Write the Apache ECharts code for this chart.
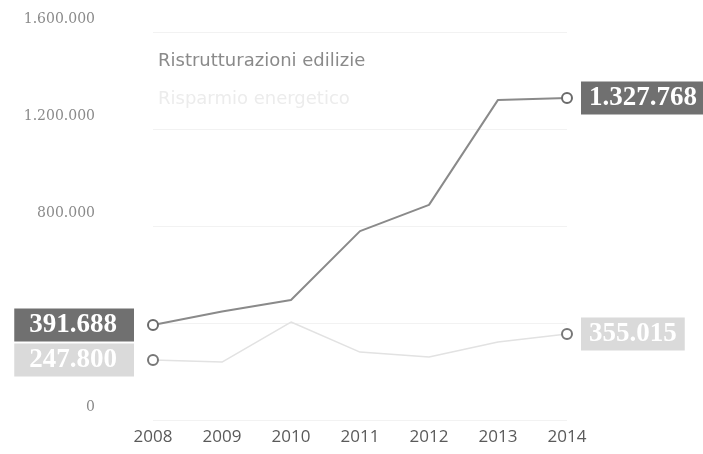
<!DOCTYPE html>
<html><head><meta charset="utf-8">
<script src="https://cdn.jsdelivr.net/npm/echarts@6/dist/echarts.min.js"></script>
<style>html,body{margin:0;padding:0;background:#fff}#c{width:703px;height:454px}</style>
</head><body><div id="c"></div>
<script>
var years = ['2008','2009','2010','2011','2012','2013','2014'];
var ristrutturazioni = [391688, 447000, 495000, 779000, 887000, 1320000, 1327768];
var risparmio = [247800, 239000, 404000, 280000, 260000, 322000, 355015];
var seriesNames = ['Ristrutturazioni edilizie', 'Risparmio energetico'];
var yTicks = [0, 400000, 800000, 1200000, 1600000];
var hiddenTicks = [400000];

function fmt(v){ return String(v).replace(/\B(?=(\d{3})+(?!\d))/g, '.'); }

function buildData(vals, boxColor, markerColor){
  return vals.map(function(v, i){
    var first = i === 0, last = i === vals.length - 1;
    if (!first && !last) return {value: v, symbol: 'none'};
    return {
      value: v,
      symbol: 'emptyCircle',
      symbolSize: 10,
      itemStyle: {color: markerColor, borderColor: markerColor, borderWidth: 2},
      label: {
        show: true,
        position: first ? 'left' : 'right',
        distance: first ? 13 : 8,
        formatter: function(p){ return fmt(p.value); },
        fontFamily: 'Liberation Serif',
        fontWeight: 'bold',
        fontSize: 27,
        color: '#fff',
        backgroundColor: boxColor,
        padding: first ? [2, 17, 1, 15] : [2, 8, 1, 8],
        lineHeight: 30
      }
    };
  });
}

var chart = echarts.init(document.getElementById('c'));
chart.setOption({
  animation: false,
  backgroundColor: '#fff',
  grid: {left: 153, right: 136, top: 32, bottom: 34},
  legend: {
    orient: 'vertical', left: 148, top: 47, itemGap: 20, icon: 'none',
    itemWidth: 0, itemHeight: 14,
    textStyle: {fontFamily: 'DejaVu Sans', fontSize: 18},
    data: [
      {name: seriesNames[0], textStyle: {color: '#8a8a8a'}},
      {name: seriesNames[1], textStyle: {color: '#ececec'}}
    ],
    selectedMode: false
  },
  xAxis: {
    type: 'category', data: years, boundaryGap: false,
    axisLine: {show: false}, axisTick: {show: false},
    axisLabel: {margin: 9, fontFamily: 'Open Sans', fontSize: 17, color: '#5a5a5a'}
  },
  yAxis: {
    type: 'value', min: yTicks[0], max: yTicks[yTicks.length-1], interval: yTicks[1]-yTicks[0],
    axisLine: {show: false}, axisTick: {show: false},
    splitLine: {lineStyle: {color: '#f2f2f2', width: 1}},
    axisLabel: {
      margin: 58, verticalAlign: 'bottom', padding: [0,0,6,0],
      fontFamily: 'DejaVu Serif', fontSize: 14, color: '#8a8a8a',
      formatter: function(v){ return hiddenTicks.indexOf(v) >= 0 ? '' : fmt(v); }
    }
  },
  series: [
    {
      name: seriesNames[0], type: 'line', z: 3,
      lineStyle: {color: '#8a8a8a', width: 2},
      itemStyle: {color: '#8a8a8a'},
      data: buildData(ristrutturazioni, '#707070', '#6a6a6a')
    },
    {
      name: seriesNames[1], type: 'line', z: 2,
      lineStyle: {color: '#e2e2e2', width: 1.5},
      itemStyle: {color: '#e2e2e2'},
      data: buildData(risparmio, '#dadada', '#777')
    }
  ]
});
</script></body></html>
